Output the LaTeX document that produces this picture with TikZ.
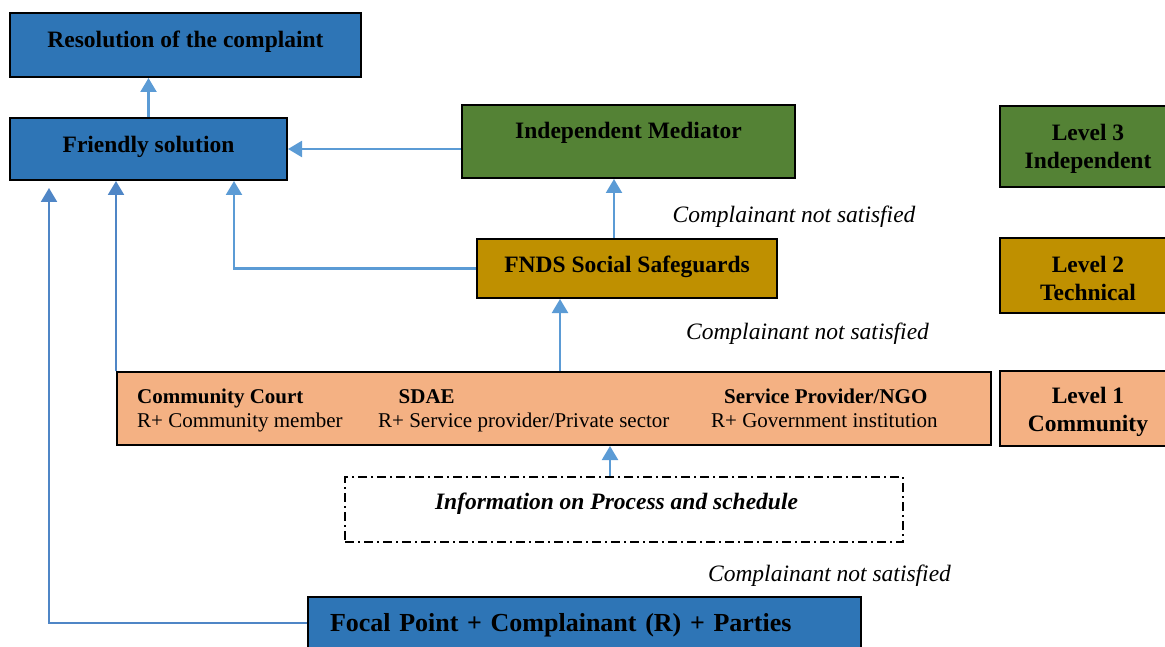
\documentclass[tikz,border=0pt]{standalone}
\usepackage{fontspec}
\setmainfont{Liberation Serif}
\usetikzlibrary{arrows.meta,calc}
\definecolor{boxblue}{HTML}{2E75B6}
\definecolor{boxgreen}{HTML}{548235}
\definecolor{boxgold}{HTML}{BF9000}
\definecolor{boxorange}{HTML}{F4B183}
\definecolor{arrblue}{HTML}{5B9BD5}
\definecolor{arrdark}{HTML}{4F86C6}
\tikzset{
  box/.style={draw=black, line width=2pt, inner ysep=0pt, inner xsep=4pt, font=\fontsize{23.5}{28}\selectfont\bfseries},
  onebox/.style={box, text height=16pt, text depth=#1},
  lvl/.style={box, align=center, minimum width=176pt},
  arr/.style={draw=arrblue, line width=2.2pt, -{Triangle[width=16pt,length=14pt]}},
  arrd/.style={arr, draw=arrdark},
  note/.style={font=\fontsize{23.5}{28}\selectfont\itshape, anchor=base, inner sep=0pt},
  comtxt/.style={font=\fontsize{21}{24}\selectfont, anchor=base west, inner sep=0pt},
}
\begin{document}
\begin{tikzpicture}[x=1pt,y=-1pt]
\useasboundingbox (0,0) rectangle (1165,647);
% boxes
\node[onebox=11.4pt, fill=boxblue, minimum width=351pt, minimum height=64pt] (res) at (185.5,45) {Resolution of the complaint};
\node[onebox=8.4pt, fill=boxblue, minimum width=277pt, minimum height=62pt] (fr) at (148.5,149) {Friendly solution};
\node[onebox=22.4pt, fill=boxgreen, minimum width=333pt, minimum height=73pt] (med) at (628.5,141.5) {Independent Mediator};
\node[onebox=8.4pt, fill=boxgold, minimum width=300pt, minimum height=59pt] (fnds) at (627,268.5) {FNDS Social Safeguards};
\node[lvl, fill=boxgreen, minimum height=81pt] (l3) at (1088,146.5) {\rule{0pt}{21pt}Level 3\\Independent};
\node[lvl, fill=boxgold, minimum height=75pt] (l2) at (1088,275.5) {\rule{0pt}{22pt}Level 2\\Technical};
\node[lvl, fill=boxorange, minimum height=75pt] (l1) at (1088,408.5) {\rule{0pt}{23pt}Level 1\\Community};
\node[draw=black, line width=2pt, fill=boxorange, minimum width=874pt, minimum height=73pt] (com) at (554,408.5) {};
\node[comtxt, font=\fontsize{21}{24}\selectfont\bfseries] (cc) at (137,403) {Community Court};
\node[comtxt] (cm) at (137,427) {R+ Community member};
\node[comtxt, font=\fontsize{21}{24}\selectfont\bfseries] (sd) at (398.5,403) {SDAE};
\node[comtxt] (sp) at (378,427) {R+ Service provider/Private sector};
\node[comtxt, font=\fontsize{21}{24}\selectfont\bfseries] (ngo) at (724,403) {Service Provider/NGO};
\node[comtxt] (gi) at (711,427) {R+ Government institution};
\node[box, draw=black, line width=2pt, dash pattern=on 9pt off 4pt on 2pt off 4pt, fill=white,
      minimum width=558pt, minimum height=65pt, text height=16pt, text depth=16.4pt,
      font=\fontsize{23.5}{28}\selectfont\bfseries\itshape] (info) at (624,509.5) {\hspace*{-15pt}Information on Process and schedule};
\node[draw=black, line width=2pt, fill=boxblue, minimum width=553pt, minimum height=52pt, inner xsep=22pt,
      text width=509pt, align=left, text height=18pt, text depth=1pt, font=\fontsize{26}{30}\selectfont\bfseries] (foc) at (584.5,623) {Focal Point + Complainant (R) + Parties};
% labels
\node[note] (n1) at (794,222.5) {Complainant not satisfied};
\node[note] (n2) at (807.5,339.5) {Complainant not satisfied};
\node[note] (n3) at (829.5,581) {Complainant not satisfied};
% connectors
\coordinate (fpup) at (49,188);
\draw[arr] (fr.north) -- (res.south -| fr.north);
\draw[arr] (med.west |- fr.east) -- (fr.east);
\draw[arr] (fnds.north -| 614,0) -- (med.south -| 614,0);
\draw[arr] (fnds.west) -| (fr.south -| 234,0);
\draw[arr] (com.north -| 560,0) -- (fnds.south -| 560,0);
\draw[arrd] (com.north west) -- (fr.south -| com.north west);
\draw[arrd] (foc.west) -| (fpup);
\draw[arr] (info.north -| 610,0) -- (com.south -| 610,0);
\end{tikzpicture}
\end{document}
